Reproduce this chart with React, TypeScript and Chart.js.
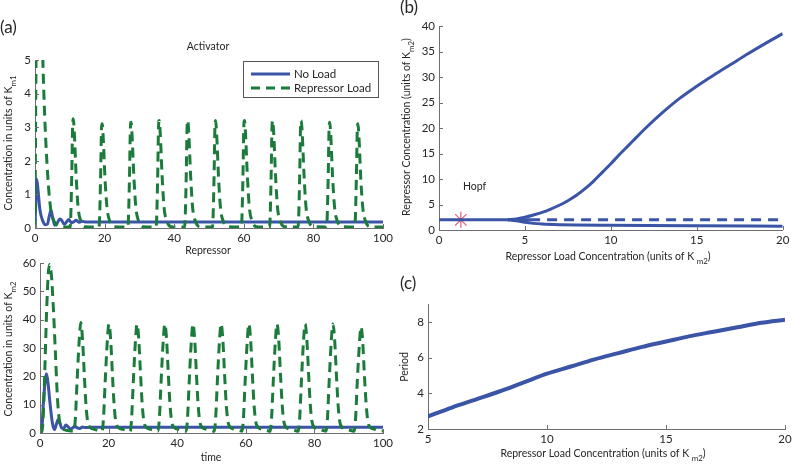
import React, { useEffect, useRef } from "react";
import { Chart, registerables } from "chart.js";
Chart.register(...registerables);

const W = 792;
const H = 465;
const BLUE = "#3a54a6";
const GREEN = "#1b7b3b";
const STAR = "#e26a82";
const AXIS = "#6f6f6f";
const TXT = "#262626";
const FONT = "Lato, 'Noto Sans', sans-serif";

type Pt = [number, number];

// ---- Panel (a) top: Activator ----
const activatorNoLoad: Pt[] = [
  [0, 0], [0.2, 0.7], [0.5, 1.45], [0.9, 1.1], [1.4, 0.55], [2.2, 0.22], [3.0, 0.1], [3.6, 0.12],
  [4.1, 0.35], [4.6, 0.52], [5.1, 0.3], [5.7, 0.08], [6.4, 0.15], [7.1, 0.27], [7.6, 0.24],
  [8.4, 0.11], [9.0, 0.17], [9.7, 0.25], [10.5, 0.15], [11.2, 0.19], [11.8, 0.23], [12.6, 0.17],
  [13.5, 0.2], [14.5, 0.18], [16, 0.18], [20, 0.18], [100, 0.18],
];
const activatorLoad: Pt[] = [
  [0, 0], [0.3, 5], [0.8, 7.5], [1.6, 8], [2.2, 5.2], [2.8, 3.3], [3.4, 2], [3.9, 1.2], [4.6, 0.5], [5.5, 0.2], [6.5, 0.07], [8, 0.03],
  [10.1, 0.03], [10.55, 1.5], [10.8, 3.0], [11.0, 3.25], [11.3, 2.85], [11.8, 1.6], [12.4, 0.6], [13.2, 0.2], [14.4, 0.04],
  [18.4, 0.03], [18.85, 1.5], [19.1, 2.9], [19.3, 3.1], [19.6, 2.7], [20.1, 1.5], [20.7, 0.6], [21.5, 0.2], [22.7, 0.04],
  [26.7, 0.03], [27.15, 1.5], [27.4, 2.95], [27.6, 3.15], [27.9, 2.75], [28.4, 1.55], [29.0, 0.6], [29.8, 0.2], [31.0, 0.04],
  [34.8, 0.03], [35.25, 1.5], [35.5, 3.0], [35.7, 3.2], [36.0, 2.8], [36.5, 1.6], [37.1, 0.6], [37.9, 0.2], [39.1, 0.04],
  [43.0, 0.03], [43.45, 1.5], [43.7, 3.0], [43.9, 3.2], [44.2, 2.8], [44.7, 1.6], [45.3, 0.6], [46.1, 0.2], [47.3, 0.04],
  [51.0, 0.03], [51.45, 1.5], [51.7, 3.0], [51.9, 3.2], [52.2, 2.8], [52.7, 1.6], [53.3, 0.6], [54.1, 0.2], [55.3, 0.04],
  [59.3, 0.03], [59.75, 1.5], [60.0, 3.0], [60.2, 3.2], [60.5, 2.8], [61.0, 1.6], [61.6, 0.6], [62.4, 0.2], [63.6, 0.04],
  [67.4, 0.03], [67.85, 1.5], [68.1, 3.0], [68.3, 3.2], [68.6, 2.8], [69.1, 1.6], [69.7, 0.6], [70.5, 0.2], [71.7, 0.04],
  [75.6, 0.03], [76.05, 1.5], [76.3, 3.0], [76.5, 3.2], [76.8, 2.8], [77.3, 1.6], [77.9, 0.6], [78.7, 0.2], [79.9, 0.04],
  [83.8, 0.03], [84.25, 1.5], [84.5, 2.95], [84.7, 3.15], [85.0, 2.75], [85.5, 1.55], [86.1, 0.6], [86.9, 0.2], [88.1, 0.04],
  [91.9, 0.03], [92.35, 1.5], [92.6, 2.9], [92.8, 3.1], [93.1, 2.7], [93.6, 1.5], [94.2, 0.6], [95.0, 0.2], [96.2, 0.04],
  [100, 0.03],
];
const timeTicks = [0, 20, 40, 60, 80, 100];
const activatorTicks = [0, 1, 2, 3, 4, 5];

// ---- Panel (a) bottom: Repressor ----
const repressorNoLoad: Pt[] = [
  [0, 0], [0.5, 1], [1.0, 10.7], [1.5, 18.5], [1.9, 20.9], [2.4, 17], [2.9, 10.7], [3.6, 3.6], [4.2, 1.2],
  [4.8, 3.2], [5.3, 4.8], [5.8, 3.6], [6.3, 1.8], [6.9, 1.6], [7.5, 2.8], [8.1, 2.3], [8.8, 1.4],
  [9.5, 1.8], [10.2, 2.3], [10.9, 1.8], [11.6, 1.6], [12.4, 2.1], [13.3, 1.9], [14.5, 2.0], [17, 2.0], [100, 2.0],
];
const repressorLoad: Pt[] = [
  [0, 0], [0.5, 0.5], [0.9, 5], [1.4, 22], [1.9, 42], [2.4, 56], [2.8, 59.5], [3.3, 56], [3.9, 44], [4.5, 28], [5.1, 12], [5.7, 4], [6.4, 1.8], [7.5, 1.0], [9, 0.7],
  [9.9, 0.6], [10.3, 5], [10.8, 18], [11.4, 32], [11.9, 39], [12.4, 33], [12.9, 21], [13.4, 10], [13.9, 4], [14.6, 2], [15.9, 1.3], [17.4, 0.8],
  [18.1, 0.6], [18.5, 5], [19.0, 18], [19.6, 32], [20.1, 38.5], [20.6, 33], [21.1, 21], [21.6, 10], [22.1, 4], [22.8, 2], [24.1, 1.3], [25.6, 0.8],
  [26.3, 0.6], [26.7, 5], [27.2, 18], [27.8, 32], [28.3, 38.5], [28.8, 33], [29.3, 21], [29.8, 10], [30.3, 4], [31.0, 2], [32.3, 1.3], [33.8, 0.8],
  [34.4, 0.6], [34.8, 5], [35.3, 18], [35.9, 32], [36.4, 38.5], [36.9, 33], [37.4, 21], [37.9, 10], [38.4, 4], [39.1, 2], [40.4, 1.3], [41.9, 0.8],
  [42.6, 0.6], [43.0, 5], [43.5, 18], [44.1, 32], [44.6, 38.5], [45.1, 33], [45.6, 21], [46.1, 10], [46.6, 4], [47.3, 2], [48.6, 1.3], [50.1, 0.8],
  [50.8, 0.6], [51.2, 5], [51.7, 18], [52.3, 32], [52.8, 38.5], [53.3, 33], [53.8, 21], [54.3, 10], [54.8, 4], [55.5, 2], [56.8, 1.3], [58.3, 0.8],
  [58.9, 0.6], [59.3, 5], [59.8, 18], [60.4, 32], [60.9, 38.5], [61.4, 33], [61.9, 21], [62.4, 10], [62.9, 4], [63.6, 2], [64.9, 1.3], [66.4, 0.8],
  [67.1, 0.6], [67.5, 5], [68.0, 18], [68.6, 32], [69.1, 38.5], [69.6, 33], [70.1, 21], [70.6, 10], [71.1, 4], [71.8, 2], [73.1, 1.3], [74.6, 0.8],
  [75.3, 0.6], [75.7, 5], [76.2, 18], [76.8, 32], [77.3, 38.5], [77.8, 33], [78.3, 21], [78.8, 10], [79.3, 4], [80.0, 2], [81.3, 1.3], [82.8, 0.8],
  [83.4, 0.6], [83.8, 5], [84.3, 18], [84.9, 32], [85.4, 38.5], [85.9, 33], [86.4, 21], [86.9, 10], [87.4, 4], [88.1, 2], [89.4, 1.3], [90.9, 0.8],
  [91.6, 0.6], [92.0, 5], [92.5, 18], [93.1, 31], [93.6, 37.5], [94.1, 32], [94.6, 20], [95.1, 10], [95.6, 4], [96.3, 2], [97.6, 1.3], [99.1, 0.8], [100, 0.7],
];
const repressorTicks = [0, 10, 20, 30, 40, 50, 60];

// ---- Panel (b): bifurcation ----
const bStable: Pt[] = [[0, 2], [5.3, 2]];
const bUnstable: Pt[] = [[5.3, 2], [20, 2]];
const bUpper: Pt[] = [
  [4, 2], [4.5, 2.15], [5, 2.5], [5.5, 2.95], [6, 3.45], [6.5, 4.1], [7, 4.85], [7.5, 5.75], [8, 6.8], [8.5, 8.1],
  [9, 9.6], [9.5, 11.3], [10, 13.0], [10.5, 14.8], [11, 16.5], [11.5, 18.2], [12, 19.9], [13, 23], [14, 25.8],
  [15, 28.2], [16, 30.4], [17, 32.5], [18, 34.6], [19, 36.6], [20, 38.5],
];
const bLower: Pt[] = [
  [4, 2], [4.5, 1.8], [5, 1.5], [5.5, 1.3], [6, 1.18], [7, 1.05], [8, 0.98], [10, 0.92], [12, 0.87], [15, 0.82], [20, 0.75],
];
const hopfPoint: Pt[] = [[1.27, 2]];
const bXTicks = [0, 5, 10, 15, 20];
const bYTicks = [0, 5, 10, 15, 20, 25, 30, 35, 40];

// ---- Panel (c): period ----
const period: Pt[] = [
  [5, 2.7], [6, 3.2], [7, 3.65], [8, 4.1], [9, 4.6], [10, 5.1], [11, 5.5], [12, 5.9], [13, 6.25],
  [14, 6.6], [15, 6.9], [16, 7.2], [17, 7.45], [18, 7.7], [19, 7.95], [20, 8.12],
];
const cXTicks = [5, 10, 15, 20];
const cYTicks = [2, 4, 6, 8];

const toXY = (a: Pt[]) => a.map(([x, y]) => ({ x, y }));

type Part = { t: string; sub?: boolean };
type TextItem = { parts: Part[]; x: number; y: number; size: number; rot?: boolean; align?: "left" | "center" };

function drawText(ctx: CanvasRenderingContext2D, it: TextItem) {
  ctx.save();
  ctx.translate(it.x, it.y);
  if (it.rot) ctx.rotate(-Math.PI / 2);
  const sub = it.size * 0.75;
  const widths = it.parts.map((p) => {
    ctx.font = `${p.sub ? sub : it.size}px ${FONT}`;
    return ctx.measureText(p.t).width;
  });
  const total = widths.reduce((a, b) => a + b, 0);
  let x0 = it.align === "left" ? 0 : -total / 2;
  ctx.textBaseline = "middle";
  ctx.textAlign = "left";
  ctx.fillStyle = TXT;
  it.parts.forEach((p, i) => {
    ctx.font = `${p.sub ? sub : it.size}px ${FONT}`;
    ctx.fillText(p.t, x0, p.sub ? it.size * 0.4 : 0);
    x0 += widths[i];
  });
  ctx.restore();
}

type Panel = {
  left: number; top: number; right: number; bottom: number;
  xMin: number; xMax: number; yMin: number; yMax: number;
  xTicks: number[]; yTicks: number[];
  datasets: any[];
  texts: TextItem[];
  legend?: boolean;
};

const YW = 30;
const XH = 22;

const solid = (data: Pt[], color: string, width = 3) => ({
  data: toXY(data), borderColor: color, borderWidth: width, pointRadius: 0,
  cubicInterpolationMode: "monotone", fill: false,
});
const dashed = (data: Pt[], color: string, dash: number[], width = 3) => ({
  ...solid(data, color, width), borderDash: dash, borderCapStyle: "butt",
});

const panels: Panel[] = [
  {
    left: 35, top: 60, right: 383, bottom: 228, xMin: 0, xMax: 100, yMin: 0, yMax: 5,
    xTicks: timeTicks, yTicks: activatorTicks,
    datasets: [dashed(activatorLoad, GREEN, [10, 6]), solid(activatorNoLoad, BLUE)],
    legend: true,
    texts: [
      { parts: [{ t: "(a)" }], x: 0, y: 28, size: 17, align: "left" },
      { parts: [{ t: "Activator" }], x: 208, y: 47, size: 10.5 },
      { parts: [{ t: "Concentration in units of K" }, { t: "m1", sub: true }], x: 9, y: 143, size: 10.5, rot: true },
    ],
  },
  {
    left: 40, top: 263, right: 383, bottom: 433, xMin: 0, xMax: 100, yMin: 0, yMax: 60,
    xTicks: timeTicks, yTicks: repressorTicks,
    datasets: [dashed(repressorLoad, GREEN, [10, 6]), solid(repressorNoLoad, BLUE)],
    texts: [
      { parts: [{ t: "Repressor" }], x: 208, y: 251, size: 10.5 },
      { parts: [{ t: "Concentration in units of K" }, { t: "m2", sub: true }], x: 9, y: 349, size: 10.5, rot: true },
      { parts: [{ t: "time" }], x: 211, y: 458, size: 10.5 },
    ],
  },
  {
    left: 439, top: 26, right: 785, bottom: 230, xMin: 0, xMax: 20, yMin: 0, yMax: 40,
    xTicks: bXTicks, yTicks: bYTicks,
    datasets: [
      solid(bStable, BLUE),
      dashed(bUnstable, BLUE, [10, 7]),
      solid(bUpper, BLUE),
      solid(bLower, BLUE),
      {
        data: toXY(hopfPoint), showLine: false, pointStyle: "star", pointRadius: 8,
        pointBorderColor: STAR, pointBorderWidth: 1.3, borderColor: STAR, backgroundColor: STAR,
      },
    ],
    texts: [
      { parts: [{ t: "(b)" }], x: 400, y: 8, size: 17, align: "left" },
      { parts: [{ t: "Repressor Concentration (units of K" }, { t: "m2", sub: true }, { t: ")" }], x: 407, y: 127, size: 10.5, rot: true },
      { parts: [{ t: "Hopf" }], x: 463, y: 187, size: 10.5, align: "left" },
      { parts: [{ t: "Repressor Load Concentration (units of K " }, { t: "m2", sub: true }, { t: ")" }], x: 608, y: 257, size: 10.5 },
    ],
  },
  {
    left: 428, top: 304, right: 785, bottom: 429, xMin: 5, xMax: 20, yMin: 2, yMax: 9,
    xTicks: cXTicks, yTicks: cYTicks,
    datasets: [solid(period, BLUE, 4)],
    texts: [
      { parts: [{ t: "(c)" }], x: 400, y: 284, size: 17, align: "left" },
      { parts: [{ t: "Period" }], x: 405, y: 367, size: 10.5, rot: true },
      { parts: [{ t: "Repressor Load Concentration (units of K " }, { t: "m2", sub: true }, { t: ")" }], x: 603, y: 454, size: 10.5 },
    ],
  },
];

function overlay(p: Panel) {
  return {
    id: "overlay",
    afterDraw(chart: any) {
      const ctx: CanvasRenderingContext2D = chart.ctx;
      const { x, y } = chart.scales;
      const area = chart.chartArea;
      ctx.save();
      ctx.strokeStyle = AXIS;
      ctx.lineWidth = 1;
      ctx.beginPath();
      p.xTicks.forEach((v) => {
        const px = Math.round(x.getPixelForValue(v)) + 0.5;
        ctx.moveTo(px, area.bottom);
        ctx.lineTo(px, area.bottom - 4);
      });
      p.yTicks.forEach((v) => {
        const py = Math.round(y.getPixelForValue(v)) + 0.5;
        ctx.moveTo(area.left, py);
        ctx.lineTo(area.left + 4, py);
      });
      ctx.stroke();
      ctx.restore();
      if (p.legend) {
        ctx.save();
        ctx.fillStyle = "#fff";
        ctx.fillRect(243.5, 61.5, 135, 36);
        ctx.strokeStyle = "#555";
        ctx.lineWidth = 1;
        ctx.strokeRect(243.5, 61.5, 135, 36);
        ctx.lineWidth = 3;
        ctx.strokeStyle = BLUE;
        ctx.beginPath();
        ctx.moveTo(251, 74);
        ctx.lineTo(290, 74);
        ctx.stroke();
        ctx.strokeStyle = GREEN;
        ctx.setLineDash([9, 6]);
        ctx.beginPath();
        ctx.moveTo(251, 88);
        ctx.lineTo(290, 88);
        ctx.stroke();
        ctx.restore();
        drawText(ctx, { parts: [{ t: "No Load" }], x: 294, y: 74, size: 11.5, align: "left" });
        drawText(ctx, { parts: [{ t: "Repressor Load" }], x: 294, y: 88, size: 11.5, align: "left" });
      }
      p.texts.forEach((t) => drawText(ctx, t));
    },
  };
}

function makeConfig(p: Panel): any {
  const tickFont = { family: FONT, size: 11.5 };
  return {
    type: "line",
    data: { datasets: p.datasets },
    options: {
      animation: false,
      responsive: false,
      events: [],
      layout: { padding: { left: p.left - YW, top: p.top, right: W - p.right, bottom: H - p.bottom - XH } },
      plugins: { legend: { display: false }, tooltip: { enabled: false }, title: { display: false } },
      scales: {
        x: {
          type: "linear", min: p.xMin, max: p.xMax,
          grid: { display: false, drawTicks: false },
          border: { display: true, color: AXIS, width: 1 },
          ticks: { font: tickFont, color: TXT, padding: 3, maxRotation: 0, autoSkip: false },
          afterBuildTicks: (s: any) => { s.ticks = p.xTicks.map((v) => ({ value: v })); },
          afterFit: (s: any) => { s.height = XH; s.paddingLeft = 0; s.paddingRight = 0; },
        },
        y: {
          type: "linear", min: p.yMin, max: p.yMax,
          grid: { display: false, drawTicks: false },
          border: { display: true, color: AXIS, width: 1 },
          ticks: { font: tickFont, color: TXT, padding: 4, autoSkip: false },
          afterBuildTicks: (s: any) => { s.ticks = p.yTicks.map((v) => ({ value: v })); },
          afterFit: (s: any) => { s.width = YW; s.paddingTop = 0; s.paddingBottom = 0; },
        },
      },
    },
    plugins: [overlay(p)],
  };
}

function PanelCanvas({ p }: { p: Panel }) {
  const ref = useRef<HTMLCanvasElement>(null);
  useEffect(() => {
    if (!ref.current) return;
    const chart = new Chart(ref.current, makeConfig(p));
    return () => chart.destroy();
  }, [p]);
  return (
    <canvas
      ref={ref}
      width={W}
      height={H}
      style={{ position: "absolute", left: 0, top: 0, width: W, height: H }}
    />
  );
}

export default function App() {
  return (
    <div style={{ position: "fixed", left: 0, top: 0, width: W, height: H, background: "#fff", overflow: "hidden" }}>
      {panels.map((p, i) => (
        <PanelCanvas key={i} p={p} />
      ))}
    </div>
  );
}
